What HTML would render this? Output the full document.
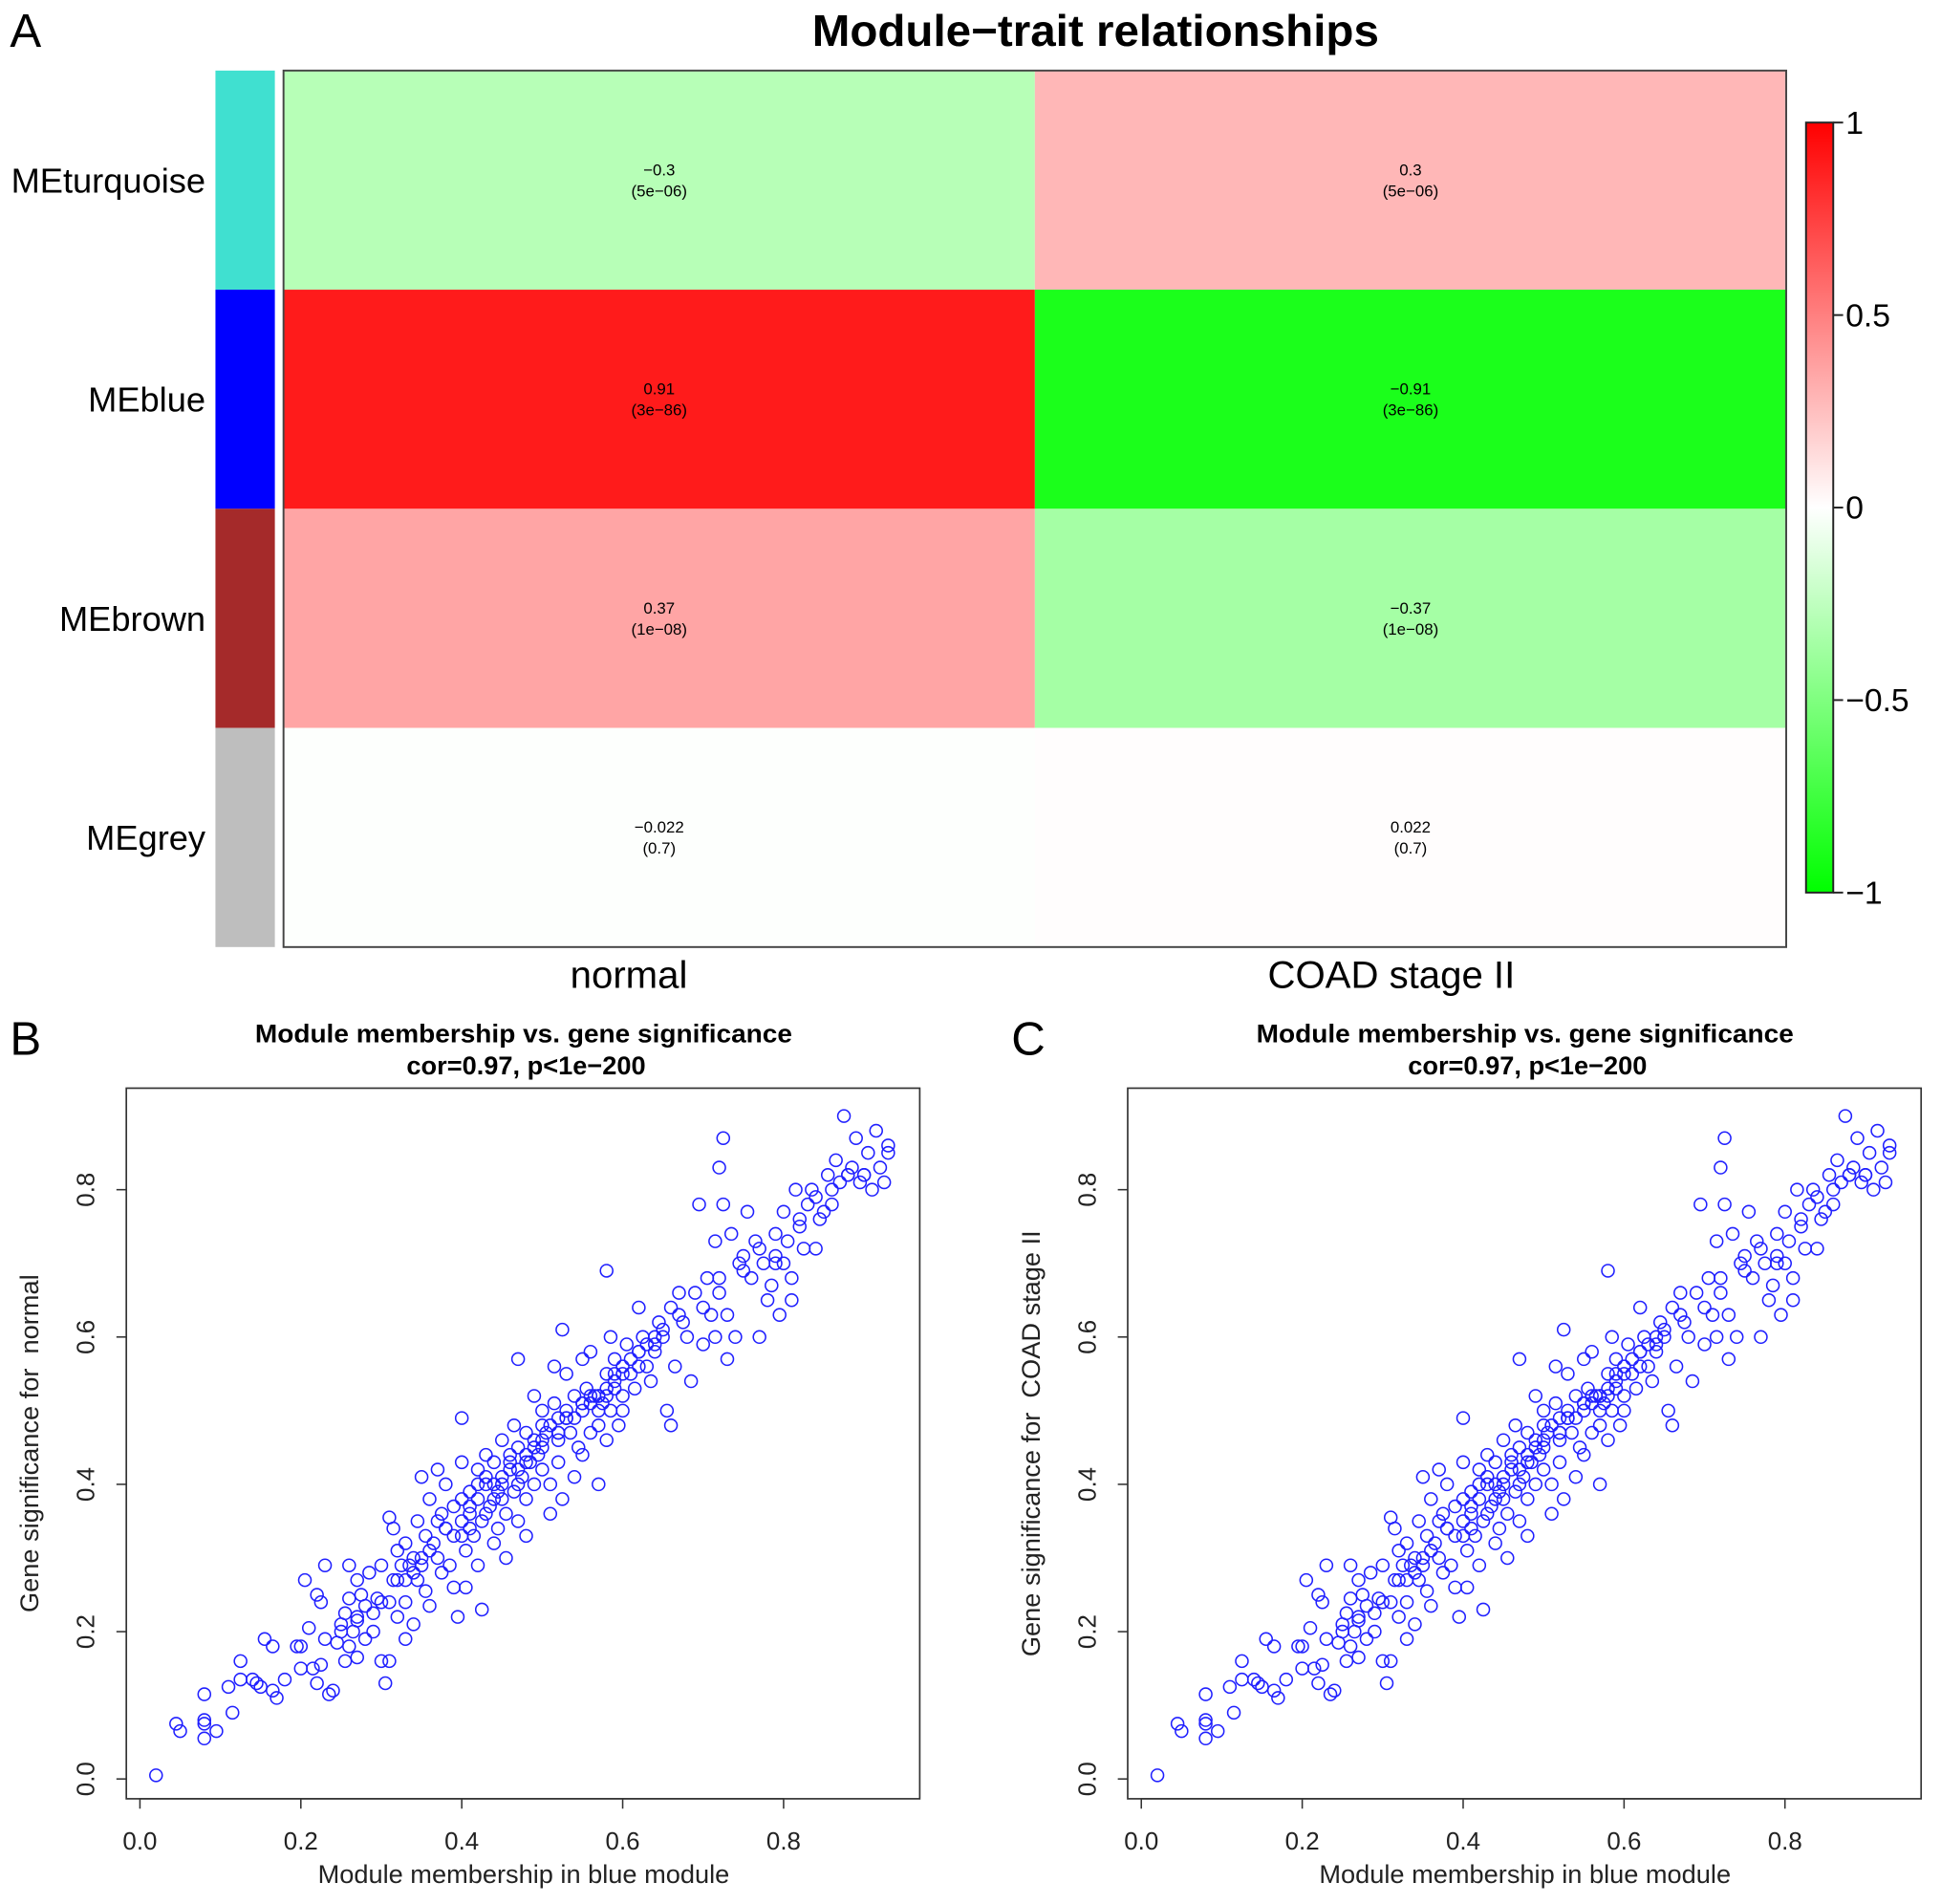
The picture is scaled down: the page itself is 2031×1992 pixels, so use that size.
<!DOCTYPE html>
<html><head><meta charset="utf-8"><style>
html,body{margin:0;padding:0;background:#fff;}
svg{display:block;font-family:"Liberation Sans",Arial,sans-serif;}
text{white-space:pre;}
</style></head><body>
<svg id="fig" width="2031" height="1992" viewBox="0 0 1568 1538" xmlns="http://www.w3.org/2000/svg">
<rect x="0" y="0" width="1568" height="1538" fill="#fff"/>
<g id="panelA"></g>
<g id="panelB"></g>
<g id="panelC"></g>
</svg>
<script>
const modules = ["MEturquoise","MEblue","MEbrown","MEgrey"];
const moduleColors = ["#40e0d0","#0000ff","#a52a2a","#bebebe"];
const traits = ["normal","COAD stage II"];
const corNormal = [-0.3, 0.91, 0.37, -0.022];
const corCoad = [0.3, -0.91, -0.37, 0.022];
const pvals = ["5e-06","3e-86","1e-08","0.7"];
const cbTicks = [1, 0.5, 0, -0.5, -1];
const cbTickLabels = ["1","0.5","0","\u22120.5","\u22121"];

const mmX = [0.02,0.045,0.05,0.08,0.08,0.08,0.08,0.095,0.11,0.115,0.125,0.125,0.14,0.145,0.15,0.155,0.165,0.165,0.17,0.18,0.195,0.2,0.2,0.205,0.21,0.215,0.22,0.22,0.225,0.225,0.23,0.23,0.235,0.24,0.245,0.25,0.255,0.255,0.26,0.26,0.26,0.265,0.27,0.27,0.27,0.275,0.28,0.28,0.285,0.29,0.29,0.295,0.3,0.3,0.305,0.31,0.31,0.31,0.315,0.315,0.32,0.32,0.325,0.33,0.33,0.33,0.335,0.34,0.34,0.345,0.345,0.35,0.35,0.355,0.355,0.36,0.36,0.365,0.37,0.37,0.375,0.375,0.38,0.38,0.385,0.39,0.39,0.395,0.4,0.4,0.4,0.4,0.405,0.405,0.41,0.41,0.415,0.42,0.42,0.42,0.425,0.425,0.43,0.43,0.435,0.44,0.44,0.445,0.445,0.45,0.45,0.455,0.455,0.46,0.46,0.465,0.465,0.47,0.47,0.47,0.475,0.48,0.48,0.48,0.485,0.49,0.49,0.49,0.495,0.5,0.5,0.505,0.51,0.51,0.515,0.515,0.52,0.52,0.525,0.525,0.53,0.53,0.535,0.54,0.54,0.545,0.55,0.55,0.555,0.56,0.56,0.565,0.57,0.57,0.575,0.58,0.58,0.58,0.585,0.585,0.59,0.59,0.595,0.6,0.6,0.605,0.61,0.615,0.62,0.62,0.625,0.63,0.635,0.64,0.645,0.65,0.655,0.66,0.66,0.665,0.67,0.675,0.68,0.685,0.69,0.695,0.7,0.705,0.71,0.715,0.715,0.72,0.72,0.725,0.725,0.73,0.73,0.735,0.74,0.745,0.75,0.755,0.76,0.765,0.77,0.775,0.78,0.785,0.79,0.79,0.795,0.8,0.8,0.805,0.81,0.81,0.815,0.82,0.825,0.83,0.835,0.84,0.845,0.85,0.855,0.86,0.865,0.87,0.875,0.88,0.885,0.89,0.895,0.9,0.905,0.91,0.915,0.92,0.925,0.93,0.93,0.55,0.57,0.6,0.45,0.43,0.5,0.52,0.56,0.58,
0.33,0.34,0.36,0.37,0.38,0.39,0.41,0.42,0.43,0.44,0.46,0.47,0.48,0.49,0.5,0.51,0.52,0.53,0.54,0.55,0.56,0.57,0.58,0.59,0.6,0.61,0.62,0.63,0.64,0.65,0.4,0.41,0.44,0.45,0.47,0.48,0.5,0.52,0.53,0.55,0.57,0.59,0.62,0.64,0.67,0.7,0.72,0.75,0.77,0.79,0.82,0.84,0.86,0.88,0.9,0.3,0.32,0.35,0.27,0.25];
const gsY = [0.005,0.075,0.065,0.115,0.08,0.075,0.055,0.065,0.125,0.09,0.16,0.135,0.135,0.13,0.125,0.19,0.18,0.12,0.11,0.135,0.18,0.18,0.15,0.27,0.205,0.15,0.13,0.25,0.24,0.155,0.29,0.19,0.115,0.12,0.185,0.2,0.225,0.16,0.29,0.18,0.245,0.2,0.165,0.215,0.27,0.25,0.19,0.235,0.28,0.2,0.225,0.245,0.16,0.29,0.13,0.16,0.355,0.24,0.27,0.34,0.31,0.22,0.29,0.32,0.24,0.19,0.29,0.28,0.21,0.35,0.27,0.41,0.3,0.33,0.255,0.38,0.235,0.32,0.42,0.3,0.36,0.28,0.34,0.4,0.29,0.33,0.26,0.22,0.49,0.43,0.38,0.35,0.31,0.26,0.39,0.36,0.33,0.42,0.38,0.29,0.35,0.23,0.44,0.4,0.37,0.32,0.43,0.39,0.34,0.46,0.41,0.36,0.3,0.44,0.42,0.48,0.39,0.57,0.45,0.35,0.41,0.47,0.38,0.33,0.43,0.52,0.45,0.4,0.44,0.5,0.42,0.47,0.36,0.4,0.51,0.56,0.46,0.43,0.61,0.38,0.55,0.49,0.47,0.52,0.41,0.45,0.5,0.44,0.53,0.47,0.58,0.52,0.4,0.48,0.51,0.69,0.55,0.46,0.6,0.5,0.57,0.53,0.48,0.56,0.52,0.59,0.55,0.53,0.64,0.58,0.6,0.56,0.54,0.58,0.62,0.6,0.5,0.48,0.64,0.56,0.66,0.62,0.6,0.54,0.66,0.78,0.59,0.68,0.63,0.73,0.6,0.83,0.66,0.87,0.78,0.57,0.63,0.74,0.6,0.7,0.71,0.77,0.68,0.73,0.6,0.7,0.65,0.67,0.74,0.71,0.63,0.77,0.7,0.73,0.65,0.68,0.8,0.75,0.72,0.78,0.8,0.72,0.76,0.77,0.82,0.78,0.84,0.81,0.9,0.82,0.83,0.87,0.81,0.82,0.85,0.8,0.88,0.83,0.81,0.85,0.86,0.57,0.52,0.5,0.38,0.36,0.46,0.47,0.51,0.52,
0.27,0.3,0.31,0.35,0.34,0.37,0.37,0.4,0.41,0.4,0.43,0.42,0.44,0.46,0.45,0.48,0.49,0.5,0.49,0.51,0.52,0.5,0.53,0.54,0.55,0.57,0.56,0.59,0.6,0.61,0.33,0.34,0.38,0.4,0.4,0.43,0.48,0.47,0.49,0.51,0.52,0.55,0.58,0.59,0.63,0.64,0.68,0.69,0.72,0.7,0.76,0.79,0.8,0.82,0.82,0.24,0.27,0.29,0.22,0.21];
const xTicks = [0.0,0.2,0.4,0.6,0.8];
const xTickLabels = ["0.0","0.2","0.4","0.6","0.8"];
const yTicks = [0.0,0.2,0.4,0.6,0.8];
const yTickLabels = ["0.0","0.2","0.4","0.6","0.8"];

const NS="http://www.w3.org/2000/svg";
function mk(parent, tag, attrs, text){
  const e=document.createElementNS(NS,tag);
  for(const k in attrs) e.setAttribute(k,attrs[k]);
  if(text!==undefined) e.textContent=text;
  parent.appendChild(e); return e;
}
function corColor(v){
  const c=Math.min(255,Math.round(255*(1-Math.abs(v))+4));
  return v>=0?`rgb(255,${c},${c})`:`rgb(${c},255,${c})`;
}

// ---------- Panel A ----------
const A=document.getElementById('panelA');
let t=mk(A,'text',{x:8,y:38,'font-size':38},'A');


t=mk(A,'text',{x:885,y:37,'font-size':36,'font-weight':'bold','text-anchor':'middle',textLength:458,lengthAdjust:'spacingAndGlyphs'},'Module\u2212trait relationships');


const hx0=229,hx1=1443,hy0=57,hy1=765;
const rowH=(hy1-hy0)/modules.length, colW=(hx1-hx0)/traits.length;
const cols=[corNormal,corCoad];
modules.forEach((m,i)=>{
  const y=hy0+i*rowH;
  let r=mk(A,'rect',{x:174,y:y,width:48,height:rowH,fill:moduleColors[i]});
  
  
  let l=mk(A,'text',{x:166,y:y+rowH/2+10,'font-size':28,'text-anchor':'end'},m);
  
  
  cols.forEach((vals,j)=>{
    const x=hx0+j*colW;
    let c=mk(A,'rect',{x:x,y:y,width:colW,height:rowH,fill:corColor(vals[i])});
    
    
    const vs=(vals[i]<0?'\u2212'+Math.abs(vals[i]):String(vals[i]));
    let tv=mk(A,'text',{x:x+colW/2,y:y+rowH/2-4,'font-size':13,'text-anchor':'middle'},vs);
    
    
    let tp=mk(A,'text',{x:x+colW/2,y:y+rowH/2+13,'font-size':13,'text-anchor':'middle'},'('+pvals[i].replace('-','\u2212')+')');
    
    
  });
});
let bx=mk(A,'rect',{x:hx0,y:hy0,width:hx1-hx0,height:hy1-hy0,fill:'none',stroke:'#444','stroke-width':1.5});


const colLabelX=[508,1124];
traits.forEach((tr,j)=>{
  let l=mk(A,'text',{x:colLabelX[j],y:798,'font-size':31,'text-anchor':'middle'},tr);
  
  
});
// colorbar
const cbx=1459,cbw=22,cby0=99,cby1=721;
const defs=mk(document.getElementById('fig'),'defs',{});
const gr=mk(defs,'linearGradient',{id:'cbg',x1:0,y1:0,x2:0,y2:1});
mk(gr,'stop',{offset:'0%','stop-color':'#ff0000'});
mk(gr,'stop',{offset:'50%','stop-color':'#ffffff'});
mk(gr,'stop',{offset:'100%','stop-color':'#00ff00'});
let cb=mk(A,'rect',{x:cbx,y:cby0,width:cbw,height:cby1-cby0,fill:'url(#cbg)',stroke:'#222','stroke-width':1.5});


const cbScale=v=>cby0+(1-v)/2*(cby1-cby0);
cbTicks.forEach((v,i)=>{
  const y=cbScale(v);
  mk(A,'line',{x1:cbx+cbw,x2:cbx+cbw+8,y1:y,y2:y,stroke:'#222','stroke-width':1.5});
  let l=mk(A,'text',{x:cbx+cbw+10,y:y+9,'font-size':26},cbTickLabels[i]);
  
  
});

// ---------- Scatter panels ----------
function scatter(g,off,letter,ylab){
  const x0=102+off,x1=743+off,y0=879,y1=1453;
  const sx=v=>113+off+v*650, sy=v=>1437-v*595;
  let L=mk(g,'text',{x:8+off,y:852,'font-size':38},letter);
  
  
  let t1=mk(g,'text',{x:423+off,y:842,'font-size':21,'font-weight':'bold','text-anchor':'middle',textLength:434,lengthAdjust:'spacingAndGlyphs'},'Module membership vs. gene significance');
  
  
  let t2=mk(g,'text',{x:425+off,y:868,'font-size':21,'font-weight':'bold','text-anchor':'middle'},'cor=0.97, p<1e\u2212200');
  
  
  let b=mk(g,'rect',{x:x0,y:y0,width:x1-x0,height:y1-y0,fill:'none',stroke:'#333','stroke-width':1.3});
  
  
  mk(g,'line',{x1:sx(xTicks[0]),x2:sx(xTicks[xTicks.length-1]),y1:y1,y2:y1,stroke:'#333','stroke-width':1.2});
  xTicks.forEach((v,i)=>{
    mk(g,'line',{x1:sx(v),x2:sx(v),y1:y1,y2:y1+8,stroke:'#333','stroke-width':1.2});
    let l=mk(g,'text',{x:sx(v),y:1494,'font-size':20,'text-anchor':'middle',fill:'#222'},xTickLabels[i]);
    
    
  });
  yTicks.forEach((v,i)=>{
    mk(g,'line',{x1:x0-8,x2:x0,y1:sy(v),y2:sy(v),stroke:'#333','stroke-width':1.2});
    let l=mk(g,'text',{x:76+off,y:sy(v),'font-size':20,'text-anchor':'middle',fill:'#222',transform:`rotate(-90 ${76+off} ${sy(v)})`},yTickLabels[i]);
    
    
  });
  let xl=mk(g,'text',{x:423+off,y:1521,'font-size':21,'text-anchor':'middle',fill:'#222'},'Module membership in blue module');
  
  
  let yl=mk(g,'text',{x:31+off,y:1166,'font-size':21,'text-anchor':'middle',fill:'#222',transform:`rotate(-90 ${31+off} 1166)`},ylab);
  
  
  mmX.forEach((v,i)=>{
    let c=mk(g,'circle',{cx:sx(v),cy:sy(gsY[i]),r:5,fill:'none',stroke:'#2020ff','stroke-width':1.2});
    
    
  });
}
scatter(document.getElementById('panelB'),0,'B','Gene significance for  normal');
scatter(document.getElementById('panelC'),809,'C','Gene significance for  COAD stage II');
</script>
</body></html>
